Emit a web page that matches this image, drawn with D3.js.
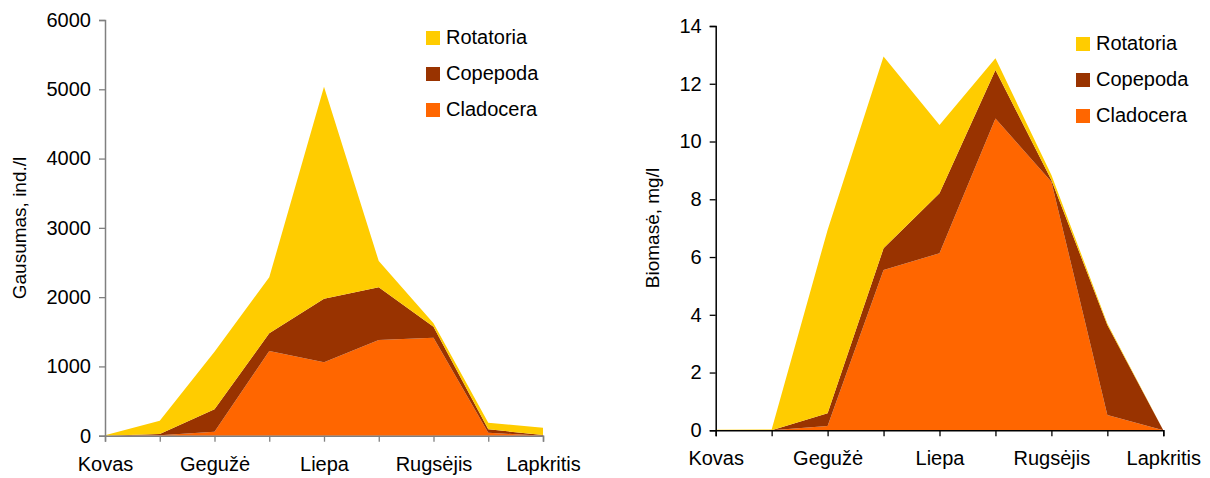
<!DOCTYPE html>
<html><head><meta charset="utf-8">
<script src="https://cdn.jsdelivr.net/npm/d3@7"></script>
<style>body{margin:0;background:#fff}svg{display:block}text{font-family:"Liberation Sans",Arial,sans-serif;fill:#000}</style>
</head><body><svg id="c" width="1210" height="478"></svg>
<script>
const months = ["Kovas","","Gegužė","","Liepa","","Rugsėjis","","Lapkritis"];
const series = ["Cladocera","Copepoda","Rotatoria"];
const legendOrder = ["Rotatoria","Copepoda","Cladocera"];
const colors = {Cladocera:"#FF6600", Copepoda:"#993300", Rotatoria:"#FFCC00"};

// Left: abundance, ind./l
const leftCladocera = [0,5,58,1222,1059,1381,1414,43,0];
const leftCopepoda  = [0,20,323,256,918,760,160,49,10];
const leftRotatoria = [5,191,831,808,3059,380,50,96,105];
const leftTicks = [0,1000,2000,3000,4000,5000,6000];

// Right: biomass, mg/l
const rightCladocera = [0,0,0.15,5.55,6.13,10.80,8.61,0.53,0];
const rightCopepoda  = [0,0,0.44,0.75,2.08,1.68,0.06,3.12,0];
const rightRotatoria = [0.02,0.03,6.35,6.64,2.36,0.40,0.17,0.05,0];
const rightTicks = [0,2,4,6,8,10,12,14];

const svg = d3.select("#c");

function chart(cfg){
  const g = svg.append("g");
  const idx = d3.range(months.length);
  const x = d3.scaleLinear().domain([0, months.length-1]).range([cfg.x0, cfg.x1]);
  const y = d3.scaleLinear().domain([0, cfg.ymax]).range([cfg.y0, cfg.y1]);
  const rows = idx.map(i => ({i, Cladocera:cfg.data.Cladocera[i], Copepoda:cfg.data.Copepoda[i], Rotatoria:cfg.data.Rotatoria[i]}));
  const stacked = d3.stack().keys(series)(rows);
  const area = d3.area().x(d => x(d.data.i)).y0(d => y(d[0])).y1(d => y(d[1]));
  g.selectAll("path.a").data(stacked).join("path").attr("class","a")
    .attr("d", area).attr("fill", d => colors[d.key]);

  // y axis
  const ya = g.append("g").attr("transform",`translate(${cfg.x0},0)`)
    .call(d3.axisLeft(y).tickValues(cfg.ticks).tickSize(6).tickPadding(8).tickFormat(d3.format("d")));
  ya.select(".domain").attr("stroke", cfg.axisColor).attr("stroke-width",1.5);
  ya.selectAll(".tick line").attr("stroke", cfg.axisColor).attr("stroke-width",1.3);
  ya.selectAll(".tick text").style("font-size","20px").attr("fill","#000");

  // x axis
  const xa = g.append("g").attr("transform",`translate(0,${cfg.y0})`)
    .call(d3.axisBottom(x).tickValues(idx).tickSize(6).tickPadding(15).tickFormat(i => months[i]));
  xa.select(".domain").attr("stroke", cfg.axisColor).attr("stroke-width",1.5);
  xa.selectAll(".tick line").attr("stroke", cfg.axisColor).attr("stroke-width",1.3);
  xa.selectAll(".tick text").style("font-size","20px").attr("fill","#000");

  // y title
  g.append("text").attr("transform",`translate(${cfg.titleX},${cfg.titleY}) rotate(-90)`)
    .attr("text-anchor","middle").style("font-size","19px").text(cfg.title);

  // legend
  const lg = g.append("g");
  legendOrder.forEach((k,j) => {
    lg.append("rect").attr("x", cfg.lx).attr("y", cfg.ly + j*36).attr("width",14).attr("height",14).attr("fill", colors[k]);
    lg.append("text").attr("x", cfg.lx+20).attr("y", cfg.ly + j*36 + 13).style("font-size","20px").text(k);
  });
}

chart({x0:105, x1:543, y0:435.7, y1:20, ymax:6000, ticks:leftTicks, axisColor:"#808080",
  data:{Cladocera:leftCladocera, Copepoda:leftCopepoda, Rotatoria:leftRotatoria},
  title:"Gausumas, ind./l", titleX:26, titleY:228, lx:426, ly:31});
chart({x0:715.7, x1:1163.3, y0:430.3, y1:26, ymax:14, ticks:rightTicks, axisColor:"#000",
  data:{Cladocera:rightCladocera, Copepoda:rightCopepoda, Rotatoria:rightRotatoria},
  title:"Biomasė, mg/l", titleX:659, titleY:228, lx:1076, ly:37});
</script></body></html>
